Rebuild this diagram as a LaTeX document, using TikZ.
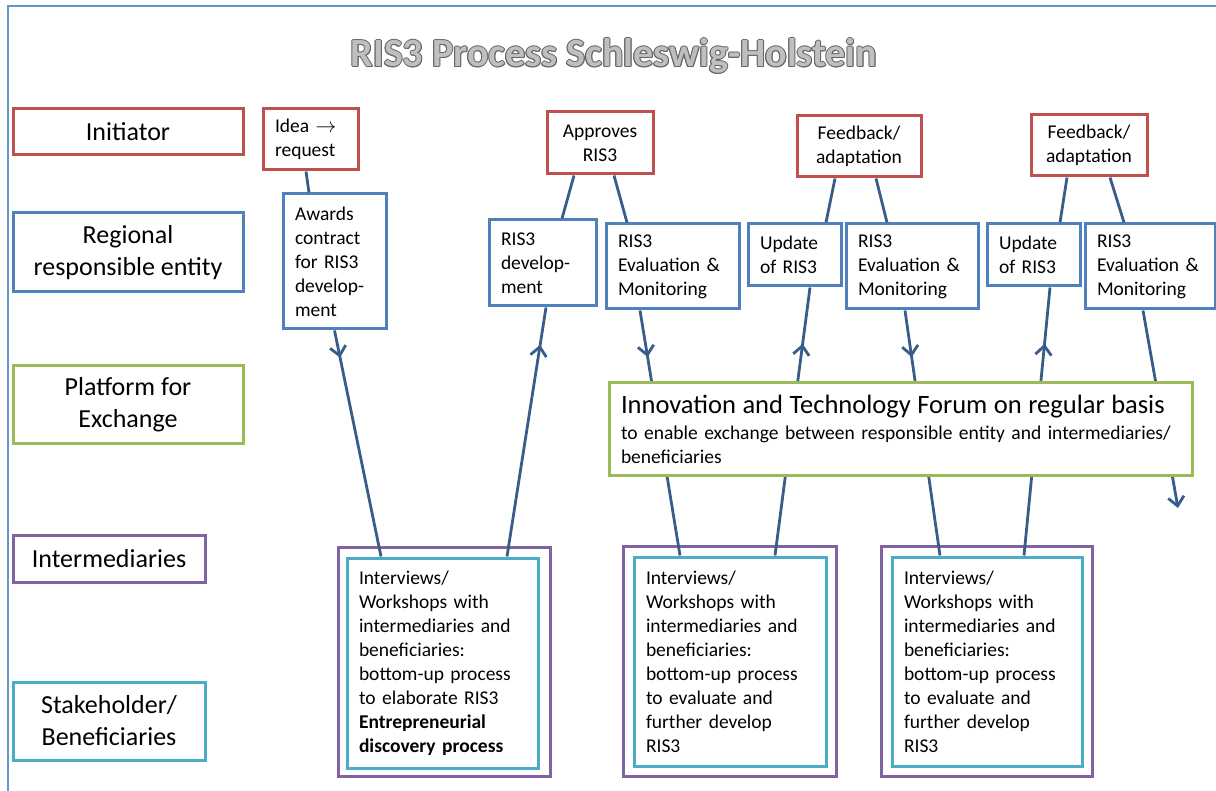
\documentclass[tikz,border=0pt]{standalone}
\usepackage{fontspec}
\setmainfont{Carlito}
\usetikzlibrary{arrows.meta,decorations.markings}

\definecolor{risred}{HTML}{C0504D}
\definecolor{risblue}{HTML}{4F81BD}
\definecolor{risgreen}{HTML}{9BBB59}
\definecolor{rispurple}{HTML}{8064A2}
\definecolor{riscyan}{HTML}{4BACC6}
\definecolor{linkblue}{HTML}{385D8A}

\begin{document}
\begin{tikzpicture}[x=1pt, y=-1pt,
  headline/.style={anchor=base, font=\fontsize{40}{48}\selectfont\bfseries},
  lane/.style={draw, line width=3pt, fill=white, align=center, inner sep=0pt, font=\fontsize{26}{32}\selectfont},
  box/.style={draw, line width=3pt, fill=white, inner xsep=12pt, inner ysep=0pt, font=\fontsize{19.5}{24}\selectfont},
  initbox/.style={box, draw=risred, align=center},
  entbox/.style={box, draw=risblue, align=left},
  forumbox/.style={box, draw=risgreen, align=left},
  grpbox/.style={draw=rispurple, line width=3pt},
  wsbox/.style={box, draw=riscyan, align=left},
  link/.style={draw=linkblue, line width=2.8pt},
  tipat/.style={postaction={decorate}, decoration={markings,
      mark=at position #1 with {\arrow{Straight Barb[length=9pt,width=16pt]}}}}]
  \useasboundingbox (0,0) rectangle (1216,791);
  \draw[risblue!85, line width=1.6pt] (8,791) -- (8,6) -- (1216,6);

  % title with a darker rim
  \foreach \ang [count=\k] in {0,45,...,315}
    \node[headline, text=gray!80!black] (rim\k) at ([shift={(\ang:1)}]614,67) {RIS3 Process Schleswig-Holstein};
  \node[headline, text=gray!50] (title) at (614,67) {RIS3 Process Schleswig-Holstein};

  % lanes
  \node[lane, draw=risred,    minimum width=230pt, minimum height=46pt] (initiator) at (128,132) {Initiator};
  \node[lane, draw=risblue,   minimum width=230pt, minimum height=79pt] (entity) at (128,252.5) {Regional\\responsible entity};
  \node[lane, draw=risgreen,  minimum width=230pt, minimum height=78pt] (platform) at (128,405) {Platform for\\Exchange};
  \node[lane, draw=rispurple, minimum width=192pt, minimum height=47pt] (intermed) at (109,558.5) {Intermediaries};
  \node[lane, draw=riscyan,   minimum width=192pt, minimum height=78pt] (stake) at (109,721) {Stakeholder/\\Beneficiaries};

  % initiator
  \node[initbox, align=left, text width=71pt, minimum height=61pt] (idea) at (310.5,139.5) {Idea $\rightarrow$\\request};
  \node[initbox, minimum width=106pt, minimum height=62pt] (approve) at (600,143) {Approves\\RIS3};
  \node[initbox, minimum width=124pt, minimum height=61pt] (feedA) at (859,146.5) {Feedback/\\adaptation};
  \node[initbox, minimum width=116pt, minimum height=61pt] (feedB) at (1089,145.5) {Feedback/\\adaptation};

  % responsible entity
  \node[entbox, text width=79pt,  minimum height=135pt] (awards) at (334.5,261.5) {Awards\\contract\\for RIS3\\develop-\\ment};
  \node[entbox, text width=83pt,  minimum height=86pt] (dev) at (542.5,263) {RIS3\\develop-\\ment};
  \node[entbox, text width=109pt, minimum height=85pt] (evalA) at (672.5,266.5) {RIS3\\Evaluation \&\\Monitoring};
  \node[entbox, text width=69pt,  minimum height=62pt] (updA) at (794.5,255) {Update\\of RIS3};
  \node[entbox, text width=108pt, minimum height=85pt] (evalB) at (912,266.5) {RIS3\\Evaluation \&\\Monitoring};
  \node[entbox, text width=69pt,  minimum height=62pt] (updB) at (1033.5,255) {Update\\of RIS3};
  \node[entbox, text width=106pt, minimum height=85pt] (evalC) at (1150,266.5) {RIS3\\Evaluation \&\\Monitoring};

  % intermediaries / beneficiaries
  \node[grpbox, minimum width=212pt, minimum height=229pt] (grpA) at (444,661.5) {};
  \node[grpbox, minimum width=213pt, minimum height=230pt] (grpB) at (729.5,661) {};
  \node[grpbox, minimum width=211pt, minimum height=230pt] (grpC) at (986.5,661) {};
  \node[wsbox, text width=167pt, minimum height=210pt] (wsA) at (442.5,663) {Interviews/\\Workshops with\\intermediaries and\\beneficiaries:\\bottom-up process\\to elaborate RIS3\\\textbf{Entrepreneurial}\\\textbf{discovery process}};
  \node[wsbox, text width=168pt, minimum height=209pt] (wsB) at (730,661.5) {Interviews/\\Workshops with\\intermediaries and\\beneficiaries:\\bottom-up process\\to evaluate and\\further develop\\RIS3};
  \node[wsbox, text width=166pt, minimum height=209pt] (wsC) at (987,661.5) {Interviews/\\Workshops with\\intermediaries and\\beneficiaries:\\bottom-up process\\to evaluate and\\further develop\\RIS3};

  % connectors
  \draw[link] ([xshift=-4.5pt]idea.south) -- ([xshift=-25.5pt]awards.north);
  \draw[link, tipat=0.12] (awards.south) -- ([xshift=-61.5pt]wsA.north);
  \draw[link, tipat=0.85] ([xshift=64.5pt]wsA.north) -- ([xshift=3.5pt]dev.south);
  \draw[link] ([xshift=-26pt]approve.south) -- ([xshift=19.5pt]dev.north);
  \draw[link] ([xshift=14pt]approve.south) -- ([xshift=-45.5pt]evalA.north);
  \draw[link, tipat=0.19] ([xshift=-32.5pt]evalA.south) -- ([xshift=-50pt]wsB.north);
  \draw[link, tipat=0.79] ([xshift=45pt]wsB.north) -- ([xshift=15.5pt]updA.south);
  \draw[link] ([xshift=-24pt]feedA.south) -- ([xshift=31.5pt]updA.north);
  \draw[link] ([xshift=17pt]feedA.south) -- ([xshift=-25pt]evalB.north);
  \draw[link, tipat=0.19] ([xshift=-7pt]evalB.south) -- ([xshift=-47pt]wsC.north);
  \draw[link, tipat=0.79] ([xshift=37pt]wsC.north) -- ([xshift=16.5pt]updB.south);
  \draw[link] ([xshift=-22pt]feedB.south) -- ([xshift=26.5pt]updB.north);
  \draw[link] ([xshift=21pt]feedB.south) -- ([xshift=-26pt]evalC.north);
  \coordinate (onward) at (1178,508);
  \draw[link, -{Straight Barb[length=9pt,width=16pt]}] ([xshift=-7pt]evalC.south) -- (onward);

  % platform on top of the crossing lines
  \node[forumbox, text width=559pt, minimum height=93pt] (forum) at (900.5,429.5)
    {{\fontsize{26.5}{28}\selectfont Innovation and Technology Forum on regular basis}\\[2pt]
     to enable exchange between responsible entity and intermediaries/\\beneficiaries};
\end{tikzpicture}
\end{document}
